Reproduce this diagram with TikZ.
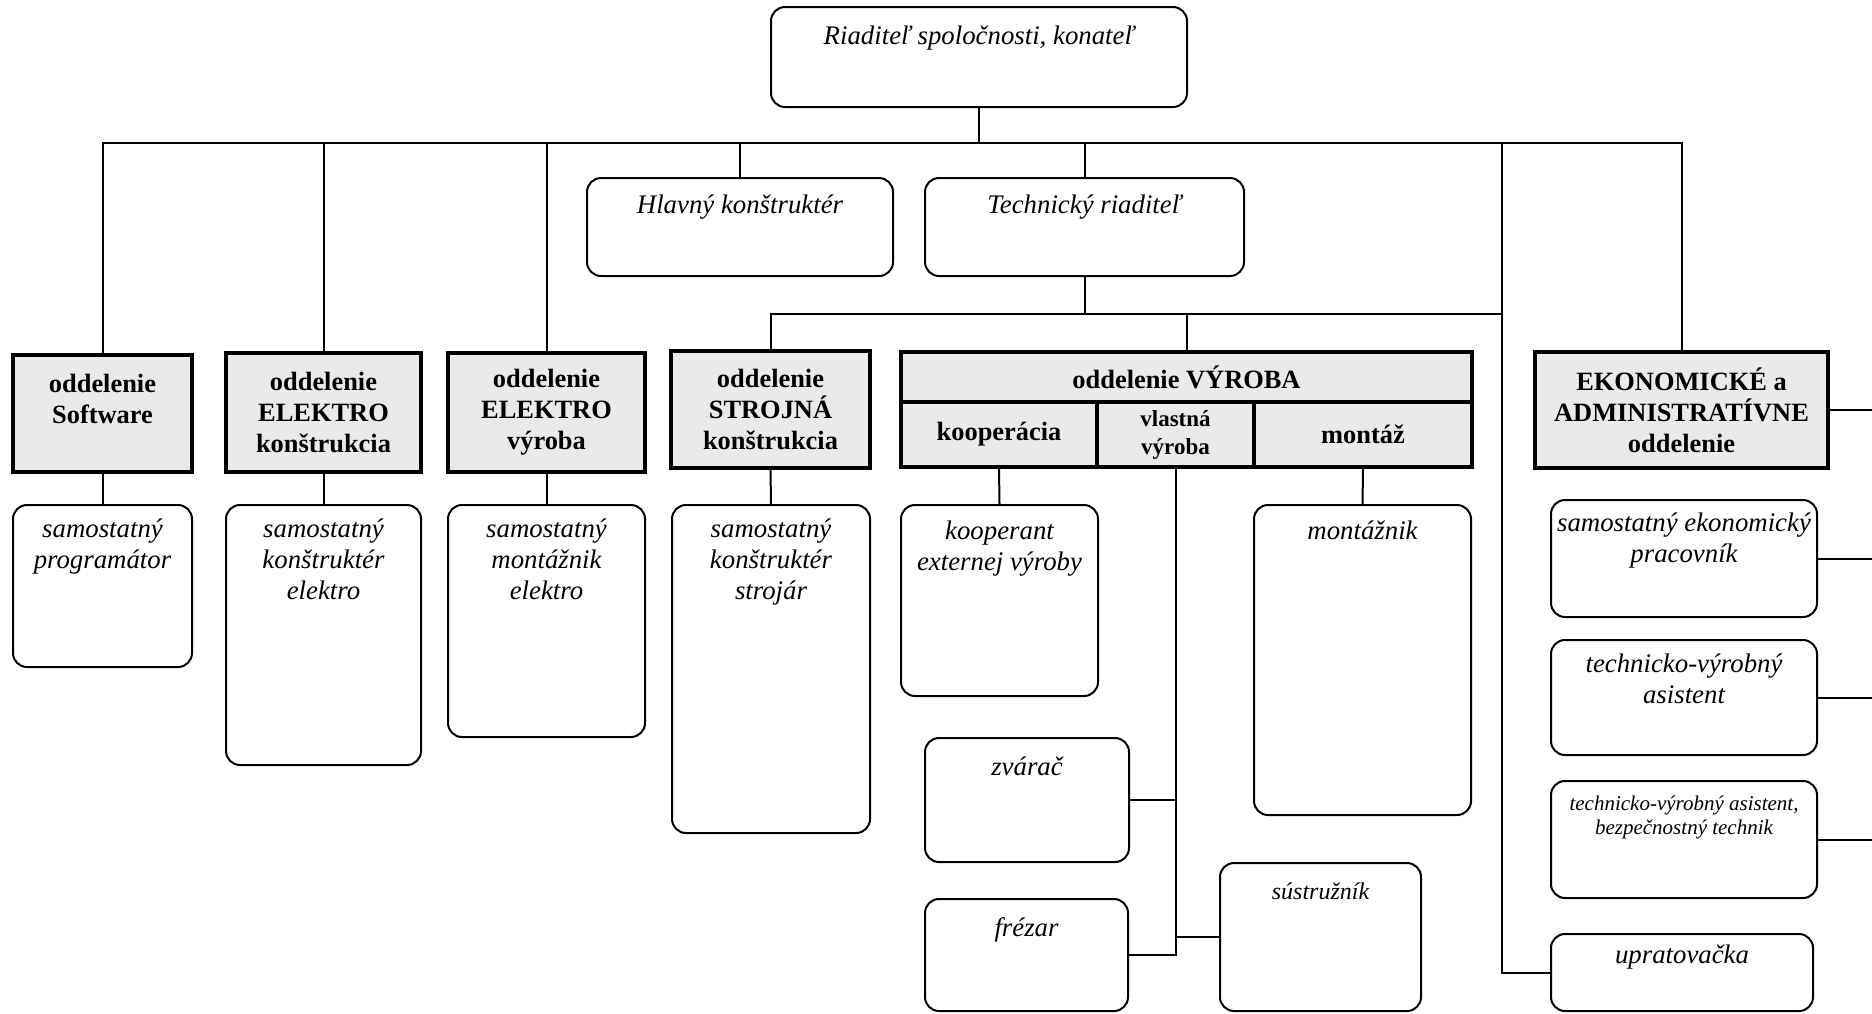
\documentclass[tikz,border=0pt]{standalone}
\usepackage{fontspec}
\setmainfont{Liberation Serif}
\usepackage{tikz}
\usetikzlibrary{positioning}
\usetikzlibrary{fit}
\definecolor{deptfill}{RGB}{234,234,234}

\begin{document}
\begin{tikzpicture}[x=0.5pt,y=-0.5pt,
  rbox/.style={draw,line width=1pt,rounded corners=7pt,inner sep=0pt},
  dept/.style={draw,line width=2.2pt,fill=deptfill,inner sep=0pt},
  dtxt/.style={inner sep=0pt,align=center,font=\fontsize{13.2}{15.5}\selectfont\bfseries},
  ttl/.style={inner sep=0pt,align=center,font=\fontsize{13.4}{15.5}\selectfont\itshape},
  conn/.style={line width=1pt}]
  \useasboundingbox (0,0) rectangle (1872,1013);

  % vedenie
  \node[rbox,fit={(771,7) (1187,107)}] (ceo) {};
  \node[rbox,fit={(587,178) (893,276)}] (hlav) {};
  \node[rbox,fit={(925,178) (1244,276)}] (tech) {};
  \node[ttl,below=9.8pt of ceo.north] (ceo-t) {Riaditeľ spoločnosti, konateľ};
  \node[ttl,below=8.8pt of hlav.north] (hlav-t) {Hlavný konštruktér};
  \node[ttl,below=8.8pt of tech.north] (tech-t) {Technický riaditeľ};

  % oddelenia
  \node[dept,fit={(13,355) (192,472)}] (sw) {};
  \node[dept,fit={(226,353) (421,472)}] (ek) {};
  \node[dept,fit={(448,353) (645,472)}] (ev) {};
  \node[dept,fit={(671,351) (870,468)}] (stroj) {};
  \node[dept,fit={(901,352) (1472,402)}] (vyr) {};
  \node[dept,fit={(901,402) (1097,467)}] (koop) {};
  \node[dept,fit={(1097,402) (1254,467)}] (vlast) {};
  \node[dept,fit={(1254,402) (1472,467)}] (mont) {};
  \node[dept,fit={(1535,352) (1828,468)}] (eko) {};
  \node[dtxt,yshift=7.5pt] (sw-t) at (sw.center) {oddelenie\\Software};
  \node[dtxt] (ek-t) at (ek.center) {oddelenie\\ELEKTRO\\konštrukcia};
  \node[dtxt] (ev-t) at (ev.center) {oddelenie\\ELEKTRO\\výroba};
  \node[dtxt] (stroj-t) at (stroj.center) {oddelenie\\STROJNÁ\\konštrukcia};
  \node[dtxt] (vyr-t) at (vyr.center) {oddelenie VÝROBA};
  \node[dtxt] (koop-t) at (koop.center) {kooperácia};
  \node[dtxt,font=\fontsize{11.5}{14}\selectfont\bfseries] (vlast-t) at (vlast.center) {vlastná\\výroba};
  \node[dtxt] (mont-t) at (mont.center) {montáž};
  \node[dtxt] (eko-t) at (eko.center) {EKONOMICKÉ a\\ADMINISTRATÍVNE\\oddelenie};

  % pracovnici
  \node[rbox,fit={(13,505) (192,667)}] (prog) {};
  \node[rbox,fit={(226,505) (421,765)}] (konel) {};
  \node[rbox,fit={(448,505) (645,737)}] (montel) {};
  \node[rbox,fit={(672,505) (870,833)}] (strojar) {};
  \node[rbox,fit={(901,505) (1098,696)}] (kooperant) {};
  \node[rbox,fit={(1254,505) (1471,815)}] (montaznik) {};
  \node[rbox,fit={(925,738) (1129,862)}] (zvarac) {};
  \node[rbox,fit={(925,899) (1128,1011)}] (frezar) {};
  \node[rbox,fit={(1220,863) (1421,1011)}] (sustr) {};
  \node[rbox,fit={(1551,500) (1817,617)}] (ek1) {};
  \node[rbox,fit={(1551,640) (1817,755)}] (ek2) {};
  \node[rbox,fit={(1551,781) (1817,898)}] (ek3) {};
  \node[rbox,fit={(1551,934) (1813,1011)}] (upra) {};

  \node[ttl,below=7.3pt of prog.north] (prog-t) {samostatný\\programátor};
  \node[ttl,below=7.3pt of konel.north] (konel-t) {samostatný\\konštruktér\\elektro};
  \node[ttl,below=7.3pt of montel.north] (montel-t) {samostatný\\montážnik\\elektro};
  \node[ttl,below=7.3pt of strojar.north] (strojar-t) {samostatný\\konštruktér\\strojár};
  \node[ttl,below=8.3pt of kooperant.north] (kooperant-t) {kooperant\\externej výroby};
  \node[ttl,below=8.3pt of montaznik.north] (montaznik-t) {montážnik};
  \node[ttl,below=9.8pt of zvarac.north] (zvarac-t) {zvárač};
  \node[ttl,below=9.8pt of frezar.north] (frezar-t) {frézar};
  \node[ttl,below=10.3pt of sustr.north,font=\fontsize{12}{14}\selectfont\itshape] (sustr-t) {sústružník};
  \node[ttl,below=6.8pt of ek1.north] (ek1-t) {samostatný ekonomický\\pracovník};
  \node[ttl,below=7.3pt of ek2.north] (ek2-t) {technicko-výrobný\\asistent};
  \node[ttl,below=7.8pt of ek3.north,font=\fontsize{10.5}{12}\selectfont\itshape] (ek3-t) {technicko-výrobný asistent,\\bezpečnostný technik};
  \node[ttl,below=5.8pt of upra.north] (upra-t) {upratovačka};

  % spojnice
  \coordinate (bus) at (979,143);
  \coordinate (trunk) at (1502,143);
  \coordinate (row) at (1084,314);
  \coordinate (redge) at (1872,0);
  \draw[conn] (ceo.south) -- (ceo.south |- bus);
  \draw[conn] (sw.north) |- (eko.north |- bus) -- (eko.north);
  \foreach \n in {ek,ev,hlav,tech}
    \draw[conn] (\n.north) -- (\n.north |- bus);
  \draw[conn] (trunk) |- (upra.west);
  \draw[conn] (tech.south) -- (tech.south |- row);
  \draw[conn] (stroj.north) |- (trunk |- row);
  \draw[conn] (vyr.north) -- (vyr.north |- row);
  \draw[conn] (sw.south) -- (prog.north);
  \draw[conn] (ek.south) -- (konel.north);
  \draw[conn] (ev.south) -- (montel.north);
  \draw[conn] (stroj.south) -- (strojar.north);
  \draw[conn] (koop.south) -- (kooperant.north);
  \draw[conn] (mont.south) -- (montaznik.north);
  \draw[conn] (vlast.south) |- (frezar.east);
  \draw[conn] (zvarac.east) -- (zvarac.east -| vlast.south);
  \draw[conn] (sustr.west) -- (sustr.west -| vlast.south);
  \foreach \n in {eko,ek1,ek2,ek3}
    \draw[conn] (\n.east) -- (\n.east -| redge);
\end{tikzpicture}
\end{document}
